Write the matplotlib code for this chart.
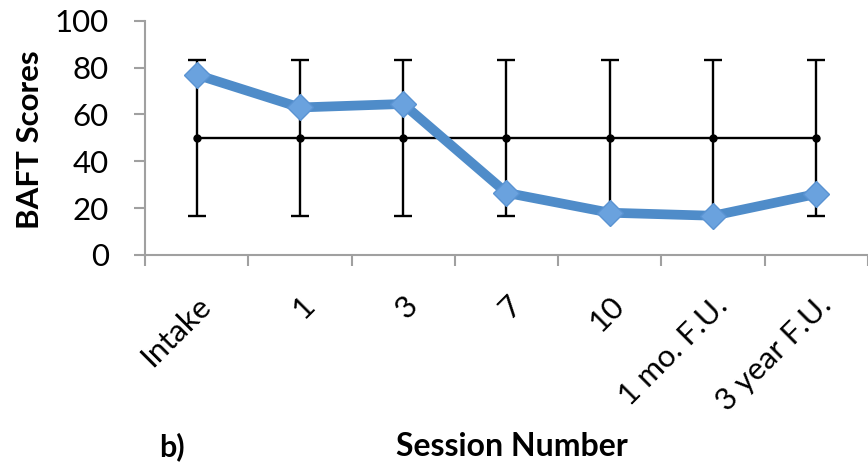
import matplotlib.pyplot as plt
import numpy as np

plt.rcParams['font.family'] = ['Lato', 'DejaVu Sans']

sessions = ['Intake', '1', '3', '7', '10', '1 mo. F.U.', '3 year F.U.']
baft = [77, 63, 64.5, 26.5, 18, 16.7, 26]
cutoff_mean = [50, 50, 50, 50, 50, 50, 50]
cutoff_sd = [33.3, 33.3, 33.3, 33.3, 33.3, 33.3, 33.3]

x = np.arange(len(sessions))

fig = plt.figure(figsize=(8.68, 4.65), dpi=100)
ax = fig.add_axes([0.167, 0.452, 0.833, 0.503])

# normative mean with +/- 1 SD bars
ax.errorbar(x, cutoff_mean, yerr=cutoff_sd, color='black', lw=1.7,
            marker='o', ms=5, capsize=6.5, capthick=1.7, elinewidth=1.7, zorder=2)

# patient scores
ax.plot(x, baft, color='#4f8cc9', lw=7, marker='D', ms=13,
        mfc='#6aa2de', mec='#5a93d2', mew=1, zorder=3)

ax.set_xlim(-0.5, len(sessions) - 0.5)
ax.set_ylim(0, 100)
ax.set_yticks(range(0, 101, 20))

# category boundaries get the tick marks, labels sit at the centres
ax.set_xticks(np.arange(len(sessions) + 1) - 0.5)
ax.set_xticklabels([])
ax.set_xticks(x, minor=True)
ax.set_xticklabels(sessions, minor=True, rotation=45, ha='right',
                   rotation_mode='anchor', fontsize=22.5)
ax.tick_params(axis='x', which='minor', length=0, pad=26)
ax.tick_params(axis='x', which='major', length=8, width=1.5, color='#a0a0a0')
ax.tick_params(axis='y', length=8, width=1.5, color='#a0a0a0', labelsize=22.5, pad=18)

for side in ['top', 'right']:
    ax.spines[side].set_visible(False)
for side in ['left', 'bottom']:
    ax.spines[side].set_color('#a0a0a0')
    ax.spines[side].set_linewidth(1.5)

fig.text(0.035, 0.70, 'BAFT Scores', rotation=90, ha='center', va='center',
         fontsize=22.5, fontweight='bold')
fig.text(0.59, 0.04, 'Session Number', ha='center', va='center',
         fontsize=23, fontweight='bold')
fig.text(0.198, 0.04, 'b)', ha='center', va='center',
         fontsize=22, fontweight='bold')

fig.savefig('out.png', dpi=100)
